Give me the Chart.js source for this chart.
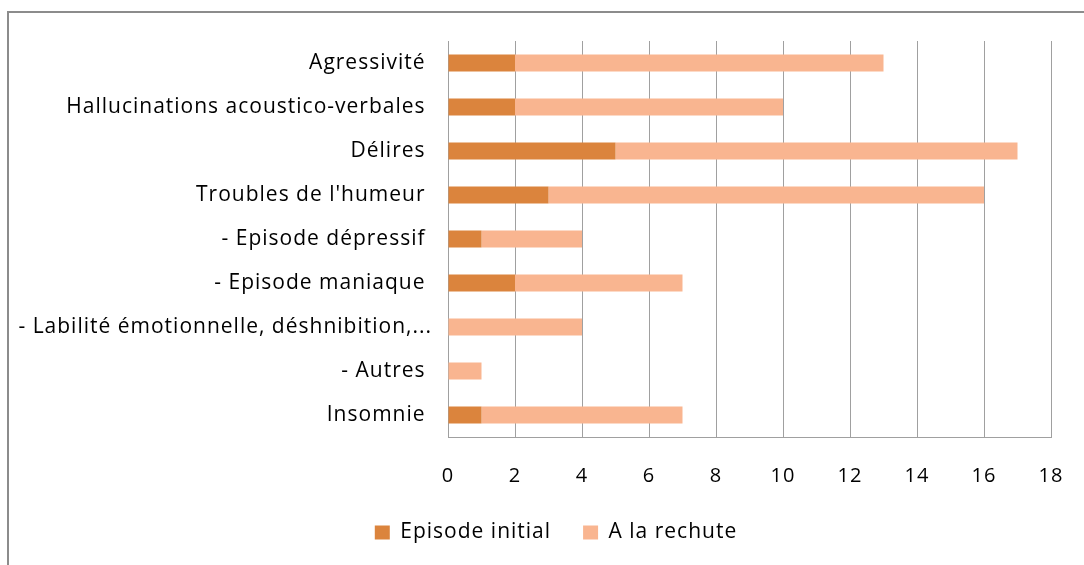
<!DOCTYPE html>
<html>
<head>
<meta charset="utf-8">
<script src="https://cdn.jsdelivr.net/npm/chart.js@4"></script>
<style>
  html, body { margin: 0; padding: 0; background: #fff; overflow: hidden; }
  #frame {
    position: absolute; left: 7px; top: 11px;
    width: 1100px; height: 600px;
    border: 2px solid #8c8c8c; box-sizing: border-box;
  }
  #wrap { position: absolute; left: 0; top: 0; width: 1084px; height: 565px; }
</style>
</head>
<body>
<div id="frame"></div>
<div id="wrap"><canvas id="chart"></canvas></div>
<script>
// Categories (top to bottom) and series values
const categories = [
    'Agressivité ',
    'Hallucinations acoustico-verbales ',
    'Délires ',
    'Troubles de l\'humeur ',
    '- Episode dépressif ',
    '- Episode maniaque ',
    '- Labilité émotionnelle, déshnibition,...',
    '- Autres ',
    'Insomnie '
];
const episodeInitial = [2, 2, 5, 3, 1, 2, 0, 0, 1];
const aLaRechute = [11, 8, 12, 13, 3, 5, 4, 1, 6];
const xTicks = [0, 2, 4, 6, 8, 10, 12, 14, 16, 18];

const FONT = '"Open Sans", Lato, sans-serif';
const gridColor = '#a0a0a0';

// The original text is set a little loose, so widen the letter spacing
const looseText = {
    id: 'looseText',
    beforeLayout(chart) { chart.ctx.letterSpacing = '1px'; },
    beforeDraw(chart) { chart.ctx.letterSpacing = '1px'; }
};

// Legend sits a bit right of the canvas centre in the original
const nudgeLegend = {
    id: 'nudgeLegend',
    afterLayout(chart) {
        if (chart.legend) chart.legend.left += 28;
    }
};

new Chart(document.getElementById('chart'), {
    type: 'bar',
    data: {
        labels: categories,
        datasets: [
            {
                label: 'Episode initial',
                data: episodeInitial,
                backgroundColor: '#DB843D',
                borderWidth: 0,
                barPercentage: 0.39,
                categoryPercentage: 1
            },
            {
                label: 'A la rechute',
                data: aLaRechute,
                backgroundColor: '#F9B590',
                borderWidth: 0,
                barPercentage: 0.39,
                categoryPercentage: 1
            }
        ]
    },
    plugins: [looseText, nudgeLegend],
    options: {
        indexAxis: 'y',
        responsive: true,
        maintainAspectRatio: false,
        animation: false,
        layout: { padding: { top: 41, right: 0, left: 0, bottom: 12 } },
        plugins: {
            legend: {
                position: 'bottom',
                labels: {
                    color: '#000',
                    font: { family: FONT, size: 21 },
                    boxWidth: 15,
                    boxHeight: 14,
                    padding: 32
                }
            },
            tooltip: { enabled: false }
        },
        scales: {
            x: {
                stacked: true,
                min: 0,
                max: 18,
                afterBuildTicks: (scale) => {
                    scale.ticks = xTicks.map(v => ({ value: v }));
                },
                afterFit: (scale) => {
                    scale.height = 53;
                    scale.paddingRight = 33;
                },
                grid: { color: gridColor, drawTicks: false },
                border: { color: gridColor, width: 1 },
                ticks: {
                    color: '#000',
                    font: { family: FONT, size: 20 },
                    padding: 27
                }
            },
            y: {
                stacked: true,
                afterFit: (scale) => { scale.width = 448; },
                grid: { display: false, drawTicks: false },
                border: { color: gridColor, width: 1 },
                ticks: {
                    color: '#000',
                    font: { family: FONT, size: 21 },
                    padding: 16,
                    autoSkip: false
                }
            }
        }
    }
});
</script>
</body>
</html>
